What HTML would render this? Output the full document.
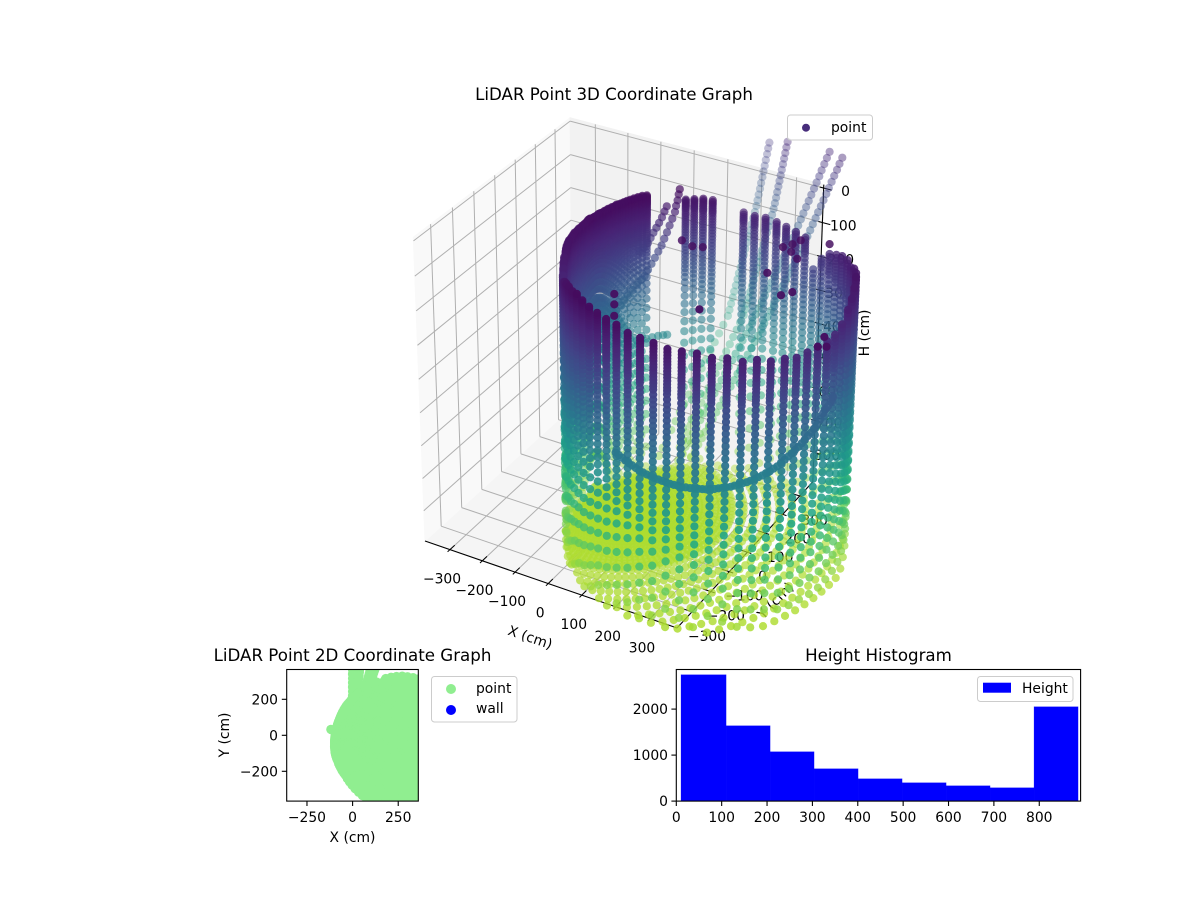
<!DOCTYPE html>
<html lang="en">
<head>
<meta charset="utf-8">
<title>LiDAR Point Graphs</title>
<style>
html,body{margin:0;padding:0;background:#fff;}
svg{display:block;}
text{font-family:"DejaVu Sans","Liberation Sans",sans-serif;fill:#000;}
</style>
</head>
<body>
<svg id="figure" xmlns="http://www.w3.org/2000/svg" width="1200" height="900" viewBox="0 0 1200 900">
  <defs>
    <clipPath id="clip2d"><rect x="286.7" y="669.5" width="131.6" height="131.6"/></clipPath>
  </defs>
  <rect x="0" y="0" width="1200" height="900" fill="#fff"/>
  <g id="axes3d"></g>
  <g id="points3d"></g>
  <text x="614" y="100" font-size="16.67" text-anchor="middle">LiDAR Point 3D Coordinate Graph</text>
  <g>
    <rect x="787.5" y="115" width="85" height="25" rx="3" fill="#fff" fill-opacity="0.8" stroke="#ccc"/>
    <circle cx="806" cy="127.7" r="4" fill="#472d7b"/>
    <text x="831" y="132" font-size="13.89">point</text>
  </g>

  <g id="scatter2d" clip-path="url(#clip2d)"></g>
  <rect x="286.7" y="669.5" width="131.6" height="131.6" fill="none" stroke="#000" stroke-width="1.1"/>
  <g id="axes2d"></g>
  <text x="352.5" y="661" font-size="16.67" text-anchor="middle">LiDAR Point 2D Coordinate Graph</text>
  <text x="352.5" y="842" font-size="13.89" text-anchor="middle">X (cm)</text>
  <text transform="translate(229,735) rotate(-90)" font-size="13.89" text-anchor="middle">Y (cm)</text>
  <g>
    <rect x="431.5" y="676.5" width="85.5" height="45.5" rx="3" fill="#fff" fill-opacity="0.8" stroke="#ccc"/>
    <circle cx="451" cy="689" r="5" fill="#90ee90"/>
    <text x="476" y="693" font-size="13.89">point</text>
    <circle cx="451" cy="710" r="5" fill="#0000ff"/>
    <text x="476" y="713" font-size="13.89">wall</text>
  </g>

  <g id="histbars"></g>
  <rect x="676.3" y="669.5" width="404.3" height="131.6" fill="none" stroke="#000" stroke-width="1.1"/>
  <g id="axeshist"></g>
  <text x="878.5" y="661" font-size="16.67" text-anchor="middle">Height Histogram</text>
  <g>
    <rect x="977.5" y="676.5" width="95.5" height="25" rx="3" fill="#fff" fill-opacity="0.8" stroke="#ccc"/>
    <rect x="983" y="682.7" width="28" height="10" fill="#0000ff"/>
    <text x="1022" y="693" font-size="13.89">Height</text>
  </g>
</svg>
<script>
/* ---------- values ---------- */
const xTicks3d = [-300,-200,-100,0,100,200,300];
const yTicks3d = [-300,-200,-100,0,100,200,300];
const zTicks3d = [0,100,200,300,400,500,600,700,800];

/* scan directions from the sensor (deg), distance to the wall (cm), highest wall return (cm below sensor) */
const scanAzimuth = [-180,-176.8,-173.6,-170.4,-167.2,-164,-160.8,-157.6,-154.4,-151.2,-148,-144.8,-141.6,-138.4,-135.2,-132,-128.8,-125.6,-122.4,-119.2,-116,-112.8,-109.6,-106.4,-103.2,-100,-96.8,-93.6,-90.4,-87.2,-84,-80.8,-77.6,-74.4,-71.2,-68,-64.8,-61.6,-58.4,-55.2,-52,-48.8,-45.6,-42.4,-39.2,-36,-32.8,-29.6,-26.4,-23.2,-20,-16.8,-13.6,-10.4,-7.2,-4,-0.8,2.4,5.6,8.8,12,15.2,18.4,21.6,24.8,28,31.2,34.4,37.6,40.8,44,47.2,50.4,53.6,56.8,60,63.2,66.4,69.6,72.8,76,79.2,82.4,85.6,88.8,92,95.2,98.4,101.6,104.8,108,111.2,114.4,117.6,120.8,124,127.2,130.4,133.6,136.8,140,143.2,146.4,149.6,152.8,156,159.2,162.4,165.6,168.8,172,175.2,178.4];
const wallDistance = [95,96,97,98,100,102,104,106,109,112,116,120,124,129,135,140,146,152,158,164,174,183,192,203,214,225,242,259,277,297,318,339,361,384,406,428,451,473,495,516,538,555,570,586,600,613,626,633,640,648,650,650,651,651,648,645,641,634,626,618,609,597,584,572,557,543,528,512,496,479,461,443,426,405,385,364,344,325,305,287,270,253,238,223,209,196,186,175,166,158,150,142,136,130,125,120,116,112,109,106,104,102,100,98,97,96,95,95,94,94,94,95,95];
const wallTop = [40,40,42,43,43,44,44,45,45,45,46,46,48,48,50,50,52,54,56,60,66,74,84,92,100,100,85,70,58,48,40,35,30,28,30,33,37,41,45,50,54,58,62,66,72,78,84,90,96,103,108,112,116,116,110,100,85,70,55,50,60,70,78,85,92,100,120,150,190,115,108,102,100,98,95,90,999,999,60,60,60,60,999,999,999,999,999,32,32,32,33,33,34,34,35,36,36,37,37,38,38,38,39,39,40,40,40,41,41,41,41,41,40];
/* downward slope of each scan row (height per cm of horizontal range) */
const scanSlope = [0.0875,0.103,0.118,0.133,0.149,0.166,0.181,0.196,0.213,0.229,0.245,0.26,0.277,0.294,0.311,0.327,0.344,0.37,0.396,0.422,0.449,0.477,0.505,0.534,0.563,0.594,0.625,0.657,0.69,0.724,0.759,0.795,0.833,0.872,0.913,0.955,1.0,1.046,1.095,1.15,1.213,1.29,1.376,1.47,1.57,1.68,1.80,1.94,2.10,2.27,2.48,2.71,2.99,3.15,3.32,3.52,3.73,3.97,4.25,4.56,4.92,5.33,5.81,6.4,7.12,8.0,9.13,10.7,12.7,16,20.8,31,60,150];
const floorHeight = [878];

/* four pale streaks seen through the opening; a distance of 0 means no return at that height */
const streakAzimuth = [90,84,75,71.6];
const streakHeight = [115,130,145,160,175,190,205,220,235,250,265,280,295,310,325,340,355,370,385,400,415,430,445,460,475,490,505,520,535,550,565,580,595,610,625,640,655,670,685,700,715,730,745,760,775,790,805,820,835];
const streakDistA = [0,0,0,812,806,800,793,787,781,775,768,762,755,749,743,735,726,717,709,700,691,682,674,665,656,647,639,630,621,613,604,595,586,560,536,511,487,462,437,413,389,365,340,316,292,268,244,220,200];
const streakDistB = [767,762,757,752,747,742,737,732,727,722,717,712,706,699,691,684,676,668,661,653,645,638,630,622,615,607,599,592,584,576,569,552,536,519,503,486,470,453,436,419,403,386,369,352,335,318,301,284,267];
const streakDistC = [794,784,774,764,755,745,735,725,715,705,695,685,675,665,655,644,632,620,608,596,584,572,560,548,536,524,512,500,488,476,462,449,435,422,408,395,381,368,354,340,327,313,299,285,271,257,243,229,215];
const streakDistD = [794,784,775,765,756,746,737,727,718,708,699,689,680,670,660,649,638,626,615,604,593,582,571,560,549,538,526,515,504,492,480,468,455,443,430,418,406,393,380,367,354,341,328,315,302,289,276,263,250];

/* dense teal scan band along the front wall */
const bandX = [227,237,247,257,267,276,286,296,306,316,326,336,346,355,365,375,384,393,403,412,422,431,440,449,457,466,475,483,491,499,508,515,523,530,538,545,552,558,565,571,578,584,590,595,601,606,611,615,620,624,628,631,635,638,641,644,647,649,651,653,654];
const bandY = [-424,-425,-426,-427,-428,-428,-428,-428,-427,-426,-425,-424,-422,-420,-418,-416,-413,-410,-408,-404,-400,-396,-392,-388,-384,-379,-374,-368,-363,-358,-352,-346,-340,-333,-326,-320,-313,-305,-298,-290,-283,-275,-267,-258,-250,-241,-233,-224,-216,-207,-198,-188,-179,-170,-160,-150,-141,-131,-122,-112,-103];
const bandH = [397,401,405,409,413,416,420,423,427,430,432,435,437,439,441,443,445,446,448,448,449,450,450,450,450,449,449,448,447,445,444,442,440,438,436,433,430,427,424,420,416,411,407,400,394,388,382,376,370,364,358,351,345,338,332,320,307,301,295,287,280];

/* dense arcs near the sensor plus the short back band */
const sweepX = [35,33,31,28,26,21,16,11,6,1,-5,-11,-17,-23,-29,-35,-42,-48,-55,-60,-65,-70,-75,10,6,2,-3,-8,-13,-18,-23,-30,-37,-41,-33,-25,-15,-5,5,13];
const sweepY = [238,236,234,232,230,225,220,215,210,205,198,191,184,176,169,160,151,139,126,114,103,91,79,215,210,204,198,192,186,180,175,165,156,150,160,172,186,200,210,217];
const sweepH = [30,45,62,78,95,114,133,152,170,189,205,222,238,254,270,280,292,303,315,326,336,346,357,76,90,105,120,133,146,160,174,185,195,460,460,460,460,460,460,460];

/* isolated returns */
const strayX = [162,199,224,423,397,411,420,426,455,519,502,363,149,174,201,681,687,705,491,-119];
const strayY = [20,7,16,-18,116,141,169,105,81,-71,-98,-256,-295,-338,-385,-221,-268,-258,188,33];
const strayH = [40,40,40,40,40,40,40,40,40,40,40,40,40,40,40,40,40,40,40,320];

/* 2D scatter axis */
const xTicks2d = [-250,0,250];
const yTicks2d = [-200,0,200];

/* histogram */
const histEdges = [10.4,109.7,206.7,303.6,400.6,497.6,594.6,691.5,788.5,885.5];
const histCounts = [2746,1637,1072,702,484,398,332,289,2050];
const histXTicks = [0,100,200,300,400,500,600,700,800];
const histYTicks = [0,1000,2000];

/* viridis colour stops */
const viridisStops = ['#440154','#482475','#414487','#355f8d','#2a788e','#21918c','#22a884','#44bf70','#7ad151','#bddf26','#fde725'];

/* ---------- helpers ---------- */
const NS = 'http://www.w3.org/2000/svg';
function make(tag, attrs, parent){
  const el = document.createElementNS(NS, tag);
  for (const k in attrs) el.setAttribute(k, attrs[k]);
  parent.appendChild(el);
  return el;
}
const MINUS = '\u2212';
function fmt(v){ return v < 0 ? MINUS + Math.abs(v) : String(v); }

/* mplot3d style projection, fitted to the box corners */
const X_MIN = -378, X_MAX = 378, Y_MIN = -378, Y_MAX = 378, Z_TOP = -10, Z_BOTTOM = 895;
function unitX(x){ return (x - X_MIN) / (X_MAX - X_MIN); }
function unitY(y){ return (y - Y_MIN) / (Y_MAX - Y_MIN); }
function unitZ(h){ return (Z_BOTTOM - h) / (Z_BOTTOM - Z_TOP); }
const ZS = 1.13;
function viewOf(ux, uy, uz){
  const px = ux - 0.5, py = uy - 0.5, pz = (uz - 0.5) * ZS;
  const a = 0.866 * px + 0.5 * py;
  const b = -0.25 * px + 0.433 * py + 0.866 * pz;
  const c = 0.433 * px - 0.75 * py + 0.5 * pz;
  const f = 10 / (10 - c);
  return {x: 621.9 + 291.9 * a * f, y: 365 - 306.8 * b * f, depth: c};
}
function project(x, y, h){ return viewOf(unitX(x), unitY(y), unitZ(h)); }
function hex2rgb(s){ return [parseInt(s.substr(1,2),16),parseInt(s.substr(3,2),16),parseInt(s.substr(5,2),16)]; }
function viridis(t){
  t = Math.max(0, Math.min(1, t));
  const p = t * (viridisStops.length - 1), i = Math.min(Math.floor(p), viridisStops.length - 2), f = p - i;
  const a = hex2rgb(viridisStops[i]), b = hex2rgb(viridisStops[i + 1]);
  return 'rgb(' + Math.round(a[0] + (b[0]-a[0])*f) + ',' + Math.round(a[1] + (b[1]-a[1])*f) + ',' + Math.round(a[2] + (b[2]-a[2])*f) + ')';
}

/* ---------- 3D axes ---------- */
const ax3 = document.getElementById('axes3d');
function polyStr(list){ return list.map(function(c){ const v = viewOf(c[0],c[1],c[2]); return v.x.toFixed(1)+','+v.y.toFixed(1); }).join(' '); }
const paneFloor = make('polygon',{points:polyStr([[0,0,0],[1,0,0],[1,1,0],[0,1,0]]),fill:'#f5f5f5',stroke:'#f5f5f5'},ax3);


const paneLeft = make('polygon',{points:polyStr([[0,0,0],[0,1,0],[0,1,1],[0,0,1]]),fill:'#f9f9f9',stroke:'#f9f9f9'},ax3);


const paneBack = make('polygon',{points:polyStr([[0,1,0],[1,1,0],[1,1,1],[0,1,1]]),fill:'#f2f2f2',stroke:'#f2f2f2'},ax3);



function seg(a, b, color, width, name){
  const p = viewOf(a[0],a[1],a[2]), q = viewOf(b[0],b[1],b[2]);
  const l = make('line',{x1:p.x.toFixed(1),y1:p.y.toFixed(1),x2:q.x.toFixed(1),y2:q.y.toFixed(1),stroke:color,'stroke-width':width},ax3);
  
  
}
const GRID = '#b0b0b0';
xTicks3d.forEach(function(t){
  const u = unitX(t);
  seg([u,0,0],[u,1,0],GRID,1,'x-grid-line');
  seg([u,1,0],[u,1,1],GRID,1,'x-grid-line');
});
yTicks3d.forEach(function(t){
  const u = unitY(t);
  seg([0,u,0],[1,u,0],GRID,1,'y-grid-line');
  seg([0,u,0],[0,u,1],GRID,1,'y-grid-line');
});
zTicks3d.forEach(function(t){
  const u = unitZ(t);
  seg([0,0,u],[0,1,u],GRID,1,'z-grid-line');
  seg([0,1,u],[1,1,u],GRID,1,'z-grid-line');
});
seg([0,0,0],[1,0,0],'#000',1.1,'x-axis-line');
seg([1,0,0],[1,1,0],'#000',1.1,'y-axis-line');
seg([1,1,0],[1,1,1],'#000',1.1,'z-axis-line');

function label3d(px, py, s, name){
  const tx = make('text',{x:px.toFixed(1),y:py.toFixed(1),'font-size':13.89,'text-anchor':'middle','dominant-baseline':'central'},ax3);
  tx.textContent = s;
  
  
}
xTicks3d.forEach(function(t){
  const u = unitX(t);
  seg([u,-0.015,0],[u,0.03,0],'#000',1,'x-tick');
  const p = viewOf(u,0,0);
  label3d(p.x - 8, p.y + 30, fmt(t), 'x-tick-label');
});
yTicks3d.forEach(function(t){
  const u = unitY(t);
  seg([1.015,u,0],[0.97,u,0],'#000',1,'y-tick');
  const p = viewOf(1,u,0);
  label3d(p.x + 15, p.y + 25, fmt(t), 'y-tick-label');
});
zTicks3d.forEach(function(t, i){
  const u = unitZ(t);
  seg([0.985,1,u],[1.03,1,u],'#000',1,'z-tick');
  const p = viewOf(1,1,u);
  const share = i / (zTicks3d.length - 1);
  label3d(p.x + 22 - 9 * share, p.y + 4, fmt(t), 'z-tick-label');
});
const xTitle = make('text',{transform:'translate(530,638) rotate(19)','font-size':13.89,'text-anchor':'middle','dominant-baseline':'central'},ax3);
xTitle.textContent = 'X (cm)';


const yTitle = make('text',{transform:'translate(776,601) rotate(-46)','font-size':13.89,'text-anchor':'middle','dominant-baseline':'central'},ax3);
yTitle.textContent = 'Y (cm)';


const zTitle = make('text',{transform:'translate(865,333) rotate(-90)','font-size':13.89,'text-anchor':'middle','dominant-baseline':'central'},ax3);
zTitle.textContent = 'H (cm)';



/* ---------- assemble the point cloud from the arrays ---------- */
const cloud = [];
const DEG = Math.PI / 180;
scanAzimuth.forEach(function(az, i){
  const cs = Math.cos(az * DEG), sn = Math.sin(az * DEG), d = wallDistance[i];
  scanSlope.forEach(function(t){
    const h = d * t;
    if (h >= floorHeight[0]) {
      const r = floorHeight[0] / t;
      cloud.push([r * cs, r * sn, floorHeight[0]]);
    } else if (h >= wallTop[i]) {
      cloud.push([d * cs, d * sn, h]);
    }
  });
});
[streakDistA, streakDistB, streakDistC, streakDistD].forEach(function(dists, s){
  const cs = Math.cos(streakAzimuth[s] * DEG), sn = Math.sin(streakAzimuth[s] * DEG);
  streakHeight.forEach(function(h, k){
    if (dists[k] > 0) cloud.push([dists[k] * cs, dists[k] * sn, h]);
  });
});
bandX.forEach(function(x, k){ cloud.push([x, bandY[k], bandH[k]]); });
sweepX.forEach(function(x, k){ cloud.push([x, sweepY[k], sweepH[k]]); });
strayX.forEach(function(x, k){ cloud.push([x, strayY[k], strayH[k]]); });

const projected = cloud.map(function(p){
  const v = project(p[0], p[1], p[2]);
  return {x: v.x, y: v.y, depth: v.depth, h: p[2]};
});
let dMin = Infinity, dMax = -Infinity;
projected.forEach(function(p){ if (p.depth < dMin) dMin = p.depth; if (p.depth > dMax) dMax = p.depth; });
projected.sort(function(a, b){ return a.depth - b.depth; });
const gp3 = document.getElementById('points3d');
projected.forEach(function(p){
  const alpha = 1 - 0.7 * Math.pow((dMax - p.depth) / (dMax - dMin), 1.4);
  const c = document.createElementNS(NS, 'circle');
  c.setAttribute('cx', p.x.toFixed(1));
  c.setAttribute('cy', p.y.toFixed(1));
  c.setAttribute('r', '4.1');
  c.setAttribute('fill', viridis(p.h / 1000));
  c.setAttribute('fill-opacity', alpha.toFixed(2));
  
  
  gp3.appendChild(c);
});

/* ---------- 2D scatter ---------- */
function px2d(x){ return 352.6 + x * 0.1825; }
function py2d(y){ return 735.3 - y * 0.18; }
const g2d = document.getElementById('scatter2d');
const seen2d = {};
cloud.forEach(function(p){
  const cx = px2d(p[0]), cy = py2d(p[1]);
  const key = Math.round(cx) + '_' + Math.round(cy);
  if (seen2d[key]) return;
  seen2d[key] = 1;
  const c = document.createElementNS(NS, 'circle');
  c.setAttribute('cx', cx.toFixed(1));
  c.setAttribute('cy', cy.toFixed(1));
  c.setAttribute('r', '4.7');
  c.setAttribute('fill', '#90ee90');
  
  
  g2d.appendChild(c);
});
const ax2 = document.getElementById('axes2d');
xTicks2d.forEach(function(t){
  const x = px2d(t);
  const l = make('line',{x1:x,y1:801.1,x2:x,y2:806,stroke:'#000','stroke-width':1.1},ax2);
  
  
  const tx = make('text',{x:x,y:822,'font-size':13.89,'text-anchor':'middle'},ax2);
  tx.textContent = fmt(t);
  
  
});
yTicks2d.forEach(function(t){
  const y = py2d(t);
  const l = make('line',{x1:286.7,y1:y,x2:281.8,y2:y,stroke:'#000','stroke-width':1.1},ax2);
  
  
  const tx = make('text',{x:278,y:y+5,'font-size':13.89,'text-anchor':'end'},ax2);
  tx.textContent = fmt(t);
  
  
});

/* ---------- histogram ---------- */
function hx(v){ return 676.3 + v * 0.4537; }
function hy(v){ return 801.1 - v * 0.046; }
const gh = document.getElementById('histbars');
histCounts.forEach(function(n, i){
  const r = make('rect',{x:hx(histEdges[i]).toFixed(2),y:hy(n).toFixed(2),width:(hx(histEdges[i+1])-hx(histEdges[i])).toFixed(2),height:(801.1-hy(n)).toFixed(2),fill:'#0000ff',stroke:'#0000ff','stroke-width':0.3},gh);
  
  
});
const axh = document.getElementById('axeshist');
histXTicks.forEach(function(t){
  const x = hx(t);
  const l = make('line',{x1:x,y1:801.1,x2:x,y2:806,stroke:'#000','stroke-width':1.1},axh);
  
  
  const tx = make('text',{x:x,y:822,'font-size':13.89,'text-anchor':'middle'},axh);
  tx.textContent = fmt(t);
  
  
});
histYTicks.forEach(function(t){
  const y = hy(t);
  const l = make('line',{x1:676.3,y1:y,x2:671.4,y2:y,stroke:'#000','stroke-width':1.1},axh);
  
  
  const tx = make('text',{x:668,y:y+5,'font-size':13.89,'text-anchor':'end'},axh);
  tx.textContent = fmt(t);
  
  
});
</script>
</body>
</html>
